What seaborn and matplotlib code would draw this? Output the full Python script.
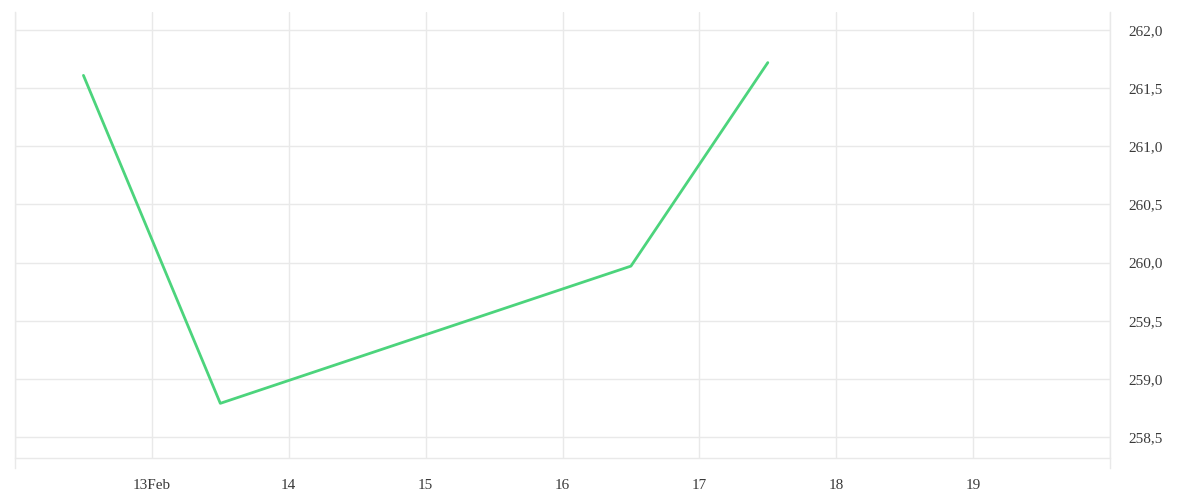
import matplotlib
matplotlib.use("Agg")
import matplotlib.pyplot as plt
import matplotlib.dates as mdates
import seaborn as sns
import pandas as pd

# Data
dates = ["2015-02-12 12:00", "2015-02-13 12:00", "2015-02-16 12:00", "2015-02-17 12:00"]
values = [261.61, 258.79, 259.97, 261.72]
tick_days = ["2015-02-12", "2015-02-13", "2015-02-14", "2015-02-15", "2015-02-16",
             "2015-02-17", "2015-02-18", "2015-02-19", "2015-02-20"]
tick_labels = ["", "13Feb", "14", "15", "16", "17", "18", "19", ""]
y_ticks = [258.5, 259.0, 259.5, 260.0, 260.5, 261.0, 261.5, 262.0]

df = pd.DataFrame({"date": pd.to_datetime(dates), "value": values})

sns.set_theme(style="white")
plt.rcParams["font.family"] = ["Liberation Serif", "DejaVu Serif"]

grid_c = "#e9e9e9"
fig = plt.figure(figsize=(12, 5), dpi=100)
ymin, ymax = 258.32, 262.155
ax = fig.add_axes([15/1200, 42/500, (1110-15)/1200, (458-12)/500])

sns.lineplot(data=df, x="date", y="value", ax=ax, color="#4cd47c", linewidth=2.0)

tk = pd.to_datetime(tick_days)
ax.set_xticks(mdates.date2num(tk))
ax.set_xticklabels(tick_labels)
ax.set_xlim(mdates.date2num(tk[0]), mdates.date2num(tk[-1]))
ax.set_ylim(ymin, ymax)
ax.set_yticks(y_ticks)
ax.set_yticklabels([f"{v:.1f}".replace(".", ",") for v in y_ticks])
ax.yaxis.tick_right()

ax.grid(True, color=grid_c, linewidth=1)
ax.tick_params(axis="x", length=10, width=1, color=grid_c, labelsize=11,
               labelcolor="#3a3a3a", pad=5, direction="out")
ax.tick_params(axis="y", length=0, labelsize=11, labelcolor="#3a3a3a", pad=13)
ax.set_xlabel("")
ax.set_ylabel("")
ax.spines["top"].set_visible(False)
per_px = (ymax - ymin) / 446
for s in ["left", "right", "bottom"]:
    ax.spines[s].set_color(grid_c)
    ax.spines[s].set_linewidth(1)
for s in ["left", "right"]:
    ax.spines[s].set_bounds(ymin - 10 * per_px, ymax)
ax.set_axisbelow(True)

fig.savefig("out.png", dpi=100, facecolor="white")
